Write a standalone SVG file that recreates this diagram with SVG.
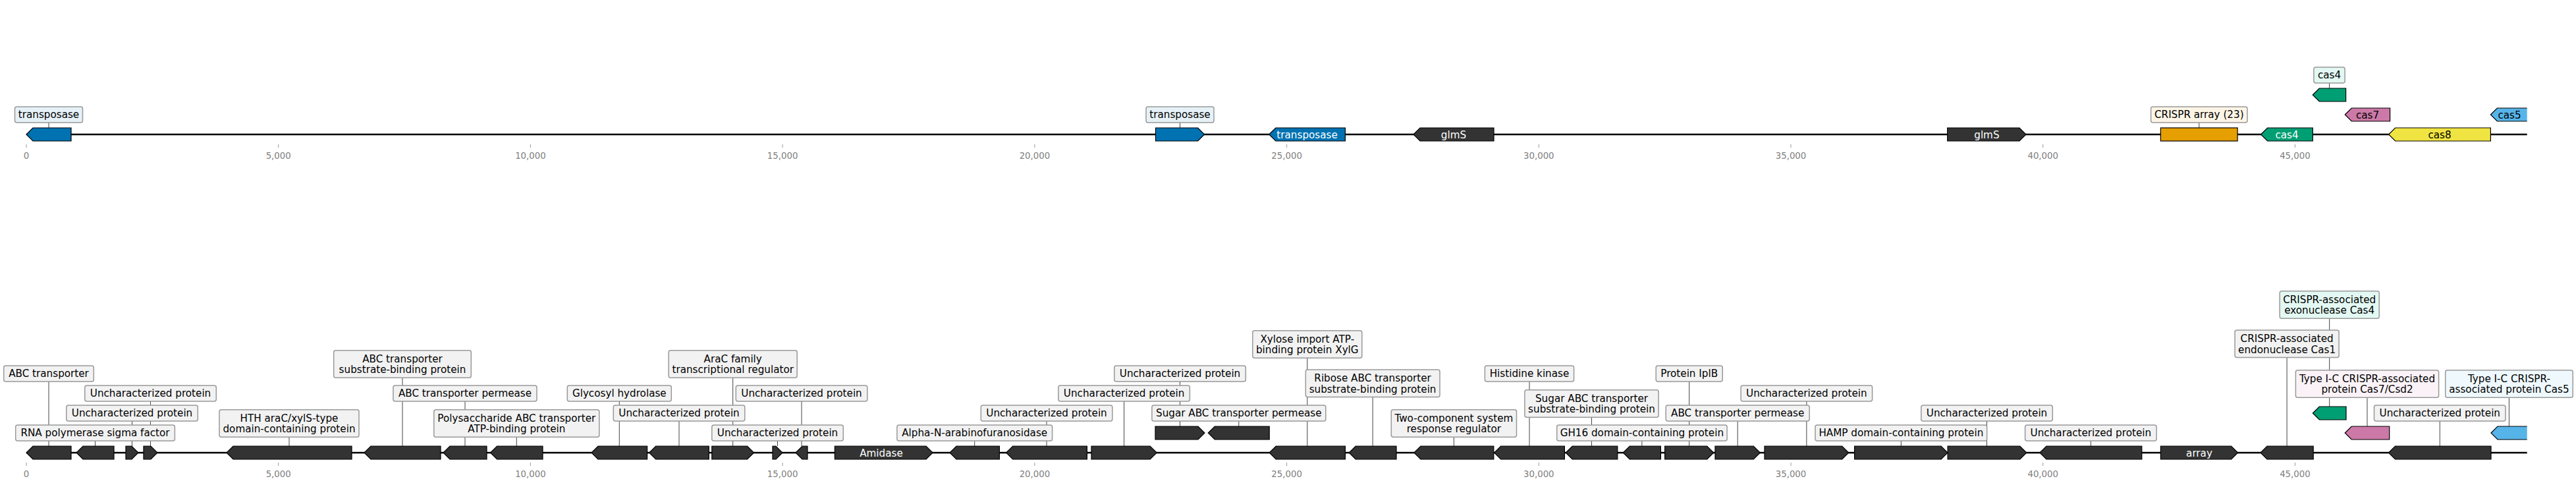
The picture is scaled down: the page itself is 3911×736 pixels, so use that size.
<svg xmlns="http://www.w3.org/2000/svg" width="3911" height="736" viewBox="0 0 3911 736">
<style>
.bb{stroke:#000;stroke-width:2.5;fill:none}
.tk{stroke:#999;stroke-width:1}
.tl{font-family:"DejaVu Sans",sans-serif;font-size:13.3px;fill:#808080;text-anchor:middle}
.ld{stroke:#444;stroke-width:1;fill:none}
.g{stroke:#000;stroke-width:1.2;stroke-linejoin:miter}
.dk{fill:#333}
.bl{fill:#0072b2}.gr{fill:#009e73}.pk{fill:#cc79a7}.ye{fill:#f0e442}.or{fill:#e69f00}.sb{fill:#56b4e9}
.lb{fill:#f2f2f2;stroke:#999;stroke-width:1.5}
.lbl{fill:#e6f1f7}.lgr{fill:#e3f8f2}.lpk{fill:#faf2f6}.lsb{fill:#eef8fd}.lor{fill:#fcf5e6}
.tx{font-family:"DejaVu Sans",sans-serif;font-size:15.2px;fill:#000;text-anchor:middle}
.wt{fill:#fff}
</style>
<defs>
<clipPath id="edge"><rect x="0" y="0" width="3836.7" height="736"/></clipPath>
</defs>
<g id="axes">
<line class="bb" x1="40" y1="204" x2="3836.7" y2="204"/>
<line class="bb" x1="40" y1="687" x2="3836.7" y2="687"/>
<g class="tk">
<line x1="40" y1="219" x2="40" y2="224"/><line x1="422.7" y1="219" x2="422.7" y2="224"/><line x1="805.4" y1="219" x2="805.4" y2="224"/><line x1="1188.1" y1="219" x2="1188.1" y2="224"/><line x1="1570.9" y1="219" x2="1570.9" y2="224"/><line x1="1953.6" y1="219" x2="1953.6" y2="224"/><line x1="2336.3" y1="219" x2="2336.3" y2="224"/><line x1="2719" y1="219" x2="2719" y2="224"/><line x1="3101.7" y1="219" x2="3101.7" y2="224"/><line x1="3484.4" y1="219" x2="3484.4" y2="224"/>
<line x1="40" y1="702" x2="40" y2="707"/><line x1="422.7" y1="702" x2="422.7" y2="707"/><line x1="805.4" y1="702" x2="805.4" y2="707"/><line x1="1188.1" y1="702" x2="1188.1" y2="707"/><line x1="1570.9" y1="702" x2="1570.9" y2="707"/><line x1="1953.6" y1="702" x2="1953.6" y2="707"/><line x1="2336.3" y1="702" x2="2336.3" y2="707"/><line x1="2719" y1="702" x2="2719" y2="707"/><line x1="3101.7" y1="702" x2="3101.7" y2="707"/><line x1="3484.4" y1="702" x2="3484.4" y2="707"/>
</g>
<g class="tl">
<text x="40" y="241">0</text><text x="422.7" y="241">5,000</text><text x="805.4" y="241">10,000</text><text x="1188.1" y="241">15,000</text><text x="1570.9" y="241">20,000</text><text x="1953.6" y="241">25,000</text><text x="2336.3" y="241">30,000</text><text x="2719" y="241">35,000</text><text x="3101.7" y="241">40,000</text><text x="3484.4" y="241">45,000</text>
<text x="40" y="724">0</text><text x="422.7" y="724">5,000</text><text x="805.4" y="724">10,000</text><text x="1188.1" y="724">15,000</text><text x="1570.9" y="724">20,000</text><text x="1953.6" y="724">25,000</text><text x="2336.3" y="724">30,000</text><text x="2719" y="724">35,000</text><text x="3101.7" y="724">40,000</text><text x="3484.4" y="724">45,000</text>
</g>
</g>
<g id="connectors" class="ld">
<line x1="74" y1="186" x2="74" y2="194"/>
<line x1="1791.5" y1="186" x2="1791.5" y2="194"/>
<line x1="3338.8" y1="186" x2="3338.8" y2="194"/>
<line x1="3536.5" y1="126" x2="3536.5" y2="134"/>
<line x1="74" y1="579" x2="74" y2="677"/>
<line x1="144.5" y1="669" x2="144.5" y2="677"/>
<line x1="200.5" y1="639" x2="200.5" y2="677"/>
<line x1="228.5" y1="609" x2="228.5" y2="677"/>
<line x1="439" y1="663.3" x2="439" y2="677"/>
<line x1="611" y1="573.3" x2="611" y2="677"/>
<line x1="706" y1="609" x2="706" y2="677"/>
<line x1="784.3" y1="663.3" x2="784.3" y2="677"/>
<line x1="940.3" y1="609" x2="940.3" y2="677"/>
<line x1="1031" y1="639" x2="1031" y2="677"/>
<line x1="1112.7" y1="573.3" x2="1112.7" y2="677"/>
<line x1="1180.5" y1="669" x2="1180.5" y2="677"/>
<line x1="1217" y1="609" x2="1217" y2="677"/>
<line x1="1479.7" y1="669" x2="1479.7" y2="677"/>
<line x1="1589" y1="639" x2="1589" y2="677"/>
<line x1="1706.6" y1="609" x2="1706.6" y2="677"/>
<line x1="1791.5" y1="579" x2="1791.5" y2="647"/>
<line x1="1880.8" y1="639" x2="1880.8" y2="647"/>
<line x1="1984.8" y1="543.3" x2="1984.8" y2="677"/>
<line x1="2084.1" y1="602.6" x2="2084.1" y2="677"/>
<line x1="2207.35" y1="663.3" x2="2207.35" y2="677"/>
<line x1="2322" y1="579" x2="2322" y2="677"/>
<line x1="2416.5" y1="633.3" x2="2416.5" y2="677"/>
<line x1="2492.85" y1="669" x2="2492.85" y2="677"/>
<line x1="2564.65" y1="579" x2="2564.65" y2="677"/>
<line x1="2638.15" y1="639" x2="2638.15" y2="677"/>
<line x1="2742.85" y1="609" x2="2742.85" y2="677"/>
<line x1="2886.35" y1="669" x2="2886.35" y2="677"/>
<line x1="3016.5" y1="639" x2="3016.5" y2="677"/>
<line x1="3174.35" y1="669" x2="3174.35" y2="677"/>
<line x1="3472.1" y1="542.6" x2="3472.1" y2="677"/>
<line x1="3536.7" y1="483.3" x2="3536.7" y2="617"/>
<line x1="3594" y1="603.3" x2="3594" y2="647"/>
<line x1="3704.25" y1="639" x2="3704.25" y2="677"/>
<line x1="3809.4" y1="603.3" x2="3809.4" y2="647"/>
</g>
<g id="top-transposase-1"><polygon class="g bl" points="40,204 50,194 108,194 108,214 50,214"/><rect class="lb lbl" x="22.5" y="162" width="103" height="24" rx="3"/><text class="tx" x="74" y="179.3">transposase</text></g>
<g id="top-transposase-2"><polygon class="g bl" points="1754.5,194 1818.6,194 1828.6,204 1818.6,214 1754.5,214"/><rect class="lb lbl" x="1740" y="162" width="103" height="24" rx="3"/><text class="tx" x="1791.5" y="179.3">transposase</text></g>
<g id="top-transposase-3"><polygon class="g bl" points="1926.8,204 1936.8,194 2042.4,194 2042.4,214 1936.8,214"/><text class="tx wt" x="1984.6" y="209.5">transposase</text></g>
<g id="top-glmS-1"><polygon class="g dk" points="2146,204 2156,194 2268,194 2268,214 2156,214"/><text class="tx wt" x="2207" y="209.5">glmS</text></g>
<g id="top-glmS-2"><polygon class="g dk" points="2956.7,194 3066,194 3076,204 3066,214 2956.7,214"/><text class="tx wt" x="3016.4" y="209.5">glmS</text></g>
<g id="top-crispr-array"><rect class="g or" x="3280.4" y="194" width="116.7" height="20"/><rect class="lb lor" x="3265.6" y="162" width="146.4" height="24" rx="3"/><text class="tx" x="3338.8" y="179.3">CRISPR array (23)</text></g>
<g id="top-cas4"><polygon class="g gr" points="3432.6,204 3442.6,194 3511.3,194 3511.3,214 3442.6,214"/><text class="tx wt" x="3472" y="209.5">cas4</text></g>
<g id="top-cas4-upper"><polygon class="g gr" points="3511.3,144 3521.3,134 3561.6,134 3561.6,154 3521.3,154"/><rect class="lb lgr" x="3512.9" y="102" width="47.2" height="24" rx="3"/><text class="tx" x="3536.5" y="119.3">cas4</text></g>
<g id="top-cas7"><polygon class="g pk" points="3560.3,174 3570.3,164 3628.6,164 3628.6,184 3570.3,184"/><text class="tx" x="3594.5" y="179.5">cas7</text></g>
<g id="top-cas8"><polygon class="g ye" points="3626.7,204 3636.7,194 3781.4,194 3781.4,214 3636.7,214"/><text class="tx" x="3704" y="209.5">cas8</text></g>
<g id="top-cas5"><polygon class="g sb" clip-path="url(#edge)" points="3781.4,174 3791.4,164 3840,164 3840,184 3791.4,184"/><text class="tx" x="3810" y="179.5">cas5</text></g>
<g id="gA"><polygon class="g dk" points="40,687 50,677 108,677 108,697 50,697"/><rect class="lb" x="5.7" y="555" width="136.6" height="24" rx="3"/><text class="tx" x="74" y="572.3">ABC transporter</text></g>
<g id="gB"><polygon class="g dk" points="116,687 126,677 173,677 173,697 126,697"/><rect class="lb" x="23.7" y="645" width="241.7" height="24" rx="3"/><text class="tx" x="144.5" y="662.3">RNA polymerase sigma factor</text></g>
<g id="gC"><polygon class="g dk" points="191,677 200,677 210,687 200,697 191,697"/><rect class="lb" x="100.8" y="615" width="199.5" height="24" rx="3"/><text class="tx" x="200.5" y="632.3">Uncharacterized protein</text></g>
<g id="gD"><polygon class="g dk" points="218,677 229,677 239,687 229,697 218,697"/><rect class="lb" x="128.8" y="585" width="199.5" height="24" rx="3"/><text class="tx" x="228.5" y="602.3">Uncharacterized protein</text></g>
<g id="gE"><polygon class="g dk" points="344,687 354,677 534,677 534,697 354,697"/><rect class="lb" x="333" y="621.7" width="212" height="41.6" rx="3"/><text class="tx" x="439" y="639.6">HTH araC/xylS-type<tspan x="439" dy="16.8">domain-containing protein</tspan></text></g>
<g id="gF"><polygon class="g dk" points="553,687 563,677 669,677 669,697 563,697"/><rect class="lb" x="506.7" y="531.7" width="208.6" height="41.6" rx="3"/><text class="tx" x="611" y="549.6">ABC transporter<tspan x="611" dy="16.8">substrate-binding protein</tspan></text></g>
<g id="gG"><polygon class="g dk" points="673,687 683,677 739,677 739,697 683,697"/><rect class="lb" x="597" y="585" width="218" height="24" rx="3"/><text class="tx" x="706" y="602.3">ABC transporter permease</text></g>
<g id="gH"><polygon class="g dk" points="744.6,687 754.6,677 824,677 824,697 754.6,697"/><rect class="lb" x="658.8" y="621.7" width="251" height="41.6" rx="3"/><text class="tx" x="784.3" y="639.6">Polysaccharide ABC transporter<tspan x="784.3" dy="16.8">ATP-binding protein</tspan></text></g>
<g id="gI"><polygon class="g dk" points="898,687 908,677 982.6,677 982.6,697 908,697"/><rect class="lb" x="861.3" y="585" width="158" height="24" rx="3"/><text class="tx" x="940.3" y="602.3">Glycosyl hydrolase</text></g>
<g id="gJ"><polygon class="g dk" points="985.7,687 995.7,677 1076.3,677 1076.3,697 995.7,697"/><rect class="lb" x="931.3" y="615" width="199.5" height="24" rx="3"/><text class="tx" x="1031" y="632.3">Uncharacterized protein</text></g>
<g id="gK"><polygon class="g dk" points="1080.8,677 1134.6,677 1144.6,687 1134.6,697 1080.8,697"/><rect class="lb" x="1015.2" y="531.7" width="195" height="41.6" rx="3"/><text class="tx" x="1112.7" y="549.6">AraC family<tspan x="1112.7" dy="16.8">transcriptional regulator</tspan></text></g>
<g id="gL"><polygon class="g dk" points="1173,677 1178,677 1188,687 1178,697 1173,697"/><rect class="lb" x="1080.8" y="645" width="199.5" height="24" rx="3"/><text class="tx" x="1180.5" y="662.3">Uncharacterized protein</text></g>
<g id="gM"><polygon class="g dk" points="1208,687 1218,677 1226,677 1226,697 1218,697"/><rect class="lb" x="1117.3" y="585" width="199.5" height="24" rx="3"/><text class="tx" x="1217" y="602.3">Uncharacterized protein</text></g>
<g id="gN"><polygon class="g dk" points="1267.4,677 1406.1,677 1416.1,687 1406.1,697 1267.4,697"/><text class="tx wt" x="1338" y="692.5">Amidase</text></g>
<g id="gO"><polygon class="g dk" points="1442,687 1452,677 1517.4,677 1517.4,697 1452,697"/><rect class="lb" x="1361.9" y="645" width="235.7" height="24" rx="3"/><text class="tx" x="1479.7" y="662.3">Alpha-N-arabinofuranosidase</text></g>
<g id="gP"><polygon class="g dk" points="1527.7,687 1537.7,677 1650.4,677 1650.4,697 1537.7,697"/><rect class="lb" x="1489.3" y="615" width="199.5" height="24" rx="3"/><text class="tx" x="1589" y="632.3">Uncharacterized protein</text></g>
<g id="gQ"><polygon class="g dk" points="1657,677 1746.2,677 1756.2,687 1746.2,697 1657,697"/><rect class="lb" x="1606.9" y="585" width="199.5" height="24" rx="3"/><text class="tx" x="1706.6" y="602.3">Uncharacterized protein</text></g>
<g id="gR"><polygon class="g dk" points="1754,647 1819,647 1829,657 1819,667 1754,667"/><rect class="lb" x="1691.8" y="555" width="199.5" height="24" rx="3"/><text class="tx" x="1791.5" y="572.3">Uncharacterized protein</text></g>
<g id="gS"><polygon class="g dk" points="1834.3,657 1844.3,647 1927.2,647 1927.2,667 1844.3,667"/><rect class="lb" x="1748.9" y="615" width="263.9" height="24" rx="3"/><text class="tx" x="1880.8" y="632.3">Sugar ABC transporter permease</text></g>
<g id="gT"><polygon class="g dk" points="1927.2,687 1937.2,677 2042.4,677 2042.4,697 1937.2,697"/><rect class="lb" x="1901.8" y="501.7" width="166" height="41.6" rx="3"/><text class="tx" x="1984.8" y="519.6">Xylose import ATP-<tspan x="1984.8" dy="16.8">binding protein XylG</tspan></text></g>
<g id="gU"><polygon class="g dk" points="2048.2,687 2058.2,677 2120,677 2120,697 2058.2,697"/><rect class="lb" x="1982.3" y="561" width="203.7" height="41.6" rx="3"/><text class="tx" x="2084.1" y="578.9">Ribose ABC transporter<tspan x="2084.1" dy="16.8">substrate-binding protein</tspan></text></g>
<g id="gV"><polygon class="g dk" points="2146.9,687 2156.9,677 2267.8,677 2267.8,697 2156.9,697"/><rect class="lb" x="2112.3" y="621.7" width="190.2" height="41.6" rx="3"/><text class="tx" x="2207.35" y="639.6">Two-component system<tspan x="2207.35" dy="16.8">response regulator</tspan></text></g>
<g id="gW"><polygon class="g dk" points="2268.7,687 2278.7,677 2375.4,677 2375.4,697 2278.7,697"/><rect class="lb" x="2254.4" y="555" width="135.2" height="24" rx="3"/><text class="tx" x="2322" y="572.3">Histidine kinase</text></g>
<g id="gX"><polygon class="g dk" points="2377.2,687 2387.2,677 2455.8,677 2455.8,697 2387.2,697"/><rect class="lb" x="2314.9" y="591.7" width="203.2" height="41.6" rx="3"/><text class="tx" x="2416.5" y="609.6">Sugar ABC transporter<tspan x="2416.5" dy="16.8">substrate-binding protein</tspan></text></g>
<g id="gY"><polygon class="g dk" points="2464.3,687 2474.3,677 2521.4,677 2521.4,697 2474.3,697"/><rect class="lb" x="2363.7" y="645" width="258.4" height="24" rx="3"/><text class="tx" x="2492.85" y="662.3">GH16 domain-containing protein</text></g>
<g id="gZ"><polygon class="g dk" points="2527.6,677 2591.7,677 2601.7,687 2591.7,697 2527.6,697"/><rect class="lb" x="2514.2" y="555" width="101" height="24" rx="3"/><text class="tx" x="2564.65" y="572.3">Protein IplB</text></g>
<g id="gAA"><polygon class="g dk" points="2604,677 2662.3,677 2672.3,687 2662.3,697 2604,697"/><rect class="lb" x="2529.2" y="615" width="218" height="24" rx="3"/><text class="tx" x="2638.15" y="632.3">ABC transporter permease</text></g>
<g id="gAB"><polygon class="g dk" points="2679,677 2796.7,677 2806.7,687 2796.7,697 2679,697"/><rect class="lb" x="2643.1" y="585" width="199.5" height="24" rx="3"/><text class="tx" x="2742.85" y="602.3">Uncharacterized protein</text></g>
<g id="gAC"><polygon class="g dk" points="2815.6,677 2947.1,677 2957.1,687 2947.1,697 2815.6,697"/><rect class="lb" x="2756" y="645" width="260.7" height="24" rx="3"/><text class="tx" x="2886.35" y="662.3">HAMP domain-containing protein</text></g>
<g id="gAD"><polygon class="g dk" points="2957.1,677 3066.8,677 3076.8,687 3066.8,697 2957.1,697"/><rect class="lb" x="2916.8" y="615" width="199.5" height="24" rx="3"/><text class="tx" x="3016.5" y="632.3">Uncharacterized protein</text></g>
<g id="gAE"><polygon class="g dk" points="3096.9,687 3106.9,677 3251.8,677 3251.8,697 3106.9,697"/><rect class="lb" x="3074.6" y="645" width="199.5" height="24" rx="3"/><text class="tx" x="3174.35" y="662.3">Uncharacterized protein</text></g>
<g id="gArray"><polygon class="g dk" points="3280.4,677 3387.6,677 3397.6,687 3387.6,697 3280.4,697"/><text class="tx wt" x="3339" y="692.5">array</text></g>
<g id="gAG"><polygon class="g dk" points="3432,687 3442,677 3512.2,677 3512.2,697 3442,697"/><rect class="lb" x="3393.1" y="501" width="158" height="41.6" rx="3"/><text class="tx" x="3472.1" y="518.9">CRISPR-associated<tspan x="3472.1" dy="16.8">endonuclease Cas1</tspan></text></g>
<g id="gCas4"><polygon class="g gr" points="3511.4,627 3521.4,617 3562,617 3562,637 3521.4,637"/><rect class="lb lgr" x="3461.2" y="441.7" width="151" height="41.6" rx="3"/><text class="tx" x="3536.7" y="459.6">CRISPR-associated<tspan x="3536.7" dy="16.8">exonuclease Cas4</tspan></text></g>
<g id="gCas7"><polygon class="g pk" points="3560.3,657 3570.3,647 3627.7,647 3627.7,667 3570.3,667"/><rect class="lb lpk" x="3485.4" y="561.7" width="217.2" height="41.6" rx="3"/><text class="tx" x="3594" y="579.6">Type I-C CRISPR-associated<tspan x="3594" dy="16.8">protein Cas7/Csd2</tspan></text></g>
<g id="gAH"><polygon class="g dk" points="3626.5,687 3636.5,677 3782,677 3782,697 3636.5,697"/><rect class="lb" x="3604.5" y="615" width="199.5" height="24" rx="3"/><text class="tx" x="3704.25" y="632.3">Uncharacterized protein</text></g>
<g id="gCas5"><polygon class="g sb" clip-path="url(#edge)" points="3782,657 3792,647 3840,647 3840,667 3792,667"/><rect class="lb lsb" x="3712.7" y="561.7" width="193.5" height="41.6" rx="3"/><text class="tx" x="3809.4" y="579.6">Type I-C CRISPR-<tspan x="3809.4" dy="16.8">associated protein Cas5</tspan></text></g>
</svg>
